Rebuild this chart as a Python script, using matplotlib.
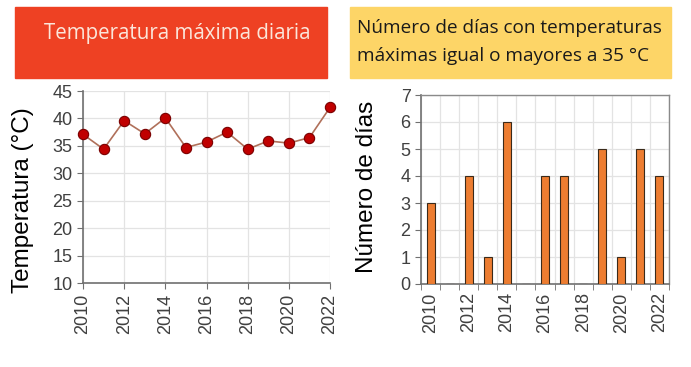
import matplotlib.pyplot as plt
from matplotlib.patches import Rectangle

# data
years = [2010, 2011, 2012, 2013, 2014, 2015, 2016, 2017, 2018, 2019, 2020, 2021, 2022]
temp_max = [37.1, 34.4, 39.6, 37.2, 40.1, 34.7, 35.7, 37.5, 34.4, 35.9, 35.5, 36.5, 42.0]
dias_35 = [3, 0, 4, 1, 6, 0, 4, 4, 0, 5, 1, 5, 4]
year_labels = ['2010', '2012', '2014', '2016', '2018', '2020', '2022']

title_left = 'Temperatura máxima diaria'
title_right = 'Número de días con temperaturas\nmáximas igual o mayores a 35 °C'

plt.rcParams['font.family'] = ['Liberation Sans', 'DejaVu Sans']
tick_color = '#404040'
grid_color = '#e3e3e3'

fig = plt.figure(figsize=(6.91, 3.67), dpi=100)

# header boxes
fig.patches.append(Rectangle((15 / 691, 1 - 78 / 367), 312 / 691, 71 / 367,
                             transform=fig.transFigure, color='#ee4123', zorder=0))
fig.patches.append(Rectangle((350 / 691, 1 - 78 / 367), 321 / 691, 71 / 367,
                             transform=fig.transFigure, color='#fdd567', zorder=0))
fig.text(177 / 691, 1 - 33 / 367, title_left, ha='center', va='center',
         fontsize=14.8, color='#fbe6da', family=['Open Sans', 'DejaVu Sans'])
fig.text(357 / 691, 1 - 42 / 367, title_right, ha='left', va='center',
         fontsize=13.7, color='#1a1a1a', linespacing=1.75,
         family=['Open Sans', 'DejaVu Sans'])

# left: line chart
ax1 = fig.add_axes([83 / 691, 1 - 283 / 367, 247 / 691, 192 / 367])
ax1.plot(years, temp_max, color='#b0705a', lw=1.2, zorder=2, clip_on=False)
ax1.scatter(years, temp_max, s=55, color='#c00000', edgecolor='#7a0000',
            linewidth=0.8, zorder=3, clip_on=False)
ax1.set_xlim(2010, 2022)
ax1.set_ylim(10, 45)
ax1.set_xticks(range(2010, 2023, 2))
ax1.set_xticklabels(year_labels, rotation=90)
ax1.set_yticks(range(10, 46, 5))
ax1.grid(True, color=grid_color, lw=0.9)
ax1.set_axisbelow(True)
ax1.set_ylabel('Temperatura (°C)', fontsize=17.5, color='black')
ax1.yaxis.set_label_coords(-0.20, 0.432)
for side in ['top', 'right']:
    ax1.spines[side].set_visible(False)
for side in ['left', 'bottom']:
    ax1.spines[side].set_color('#707070')
    ax1.spines[side].set_linewidth(1.2)
ax1.tick_params(labelsize=13, colors=tick_color, length=4, color='#707070')

# right: bar chart
ax2 = fig.add_axes([421 / 691, 1 - 284 / 367, 248 / 691, 189 / 367])
pos = list(range(len(years)))
ax2.bar(pos, dias_35, width=0.42, color='#ed7d31', edgecolor='#3a2a1a',
        linewidth=0.8, zorder=3)
ax2.set_xlim(-0.5, len(years) - 0.5)
ax2.set_ylim(0, 7)
ax2.set_xticks(pos[::2])
ax2.set_xticklabels(year_labels, rotation=90)
ax2.set_xticks([p - 0.5 for p in pos] + [len(years) - 0.5], minor=True)
ax2.tick_params(axis='x', which='major', length=0, pad=6)
ax2.tick_params(axis='x', which='minor', length=4, color='#707070')
ax2.set_yticks(range(0, 8))
ax2.grid(True, which='minor', axis='x', color=grid_color, lw=0.9)
ax2.grid(True, which='major', axis='y', color=grid_color, lw=0.9)
ax2.set_axisbelow(True)
ax2.set_ylabel('Número de días', fontsize=17.5, color='black')
ax2.yaxis.set_label_coords(-0.173, 0.513)
for side in ['top', 'right']:
    ax2.spines[side].set_color('#8a8a8a')
    ax2.spines[side].set_linewidth(1.0)
for side in ['left', 'bottom']:
    ax2.spines[side].set_color('#707070')
    ax2.spines[side].set_linewidth(1.2)
ax2.tick_params(axis='y', labelsize=13, colors=tick_color, length=4, color='#707070')
ax2.tick_params(axis='x', labelsize=13, colors=tick_color)

fig.savefig('out.png', dpi=100)
